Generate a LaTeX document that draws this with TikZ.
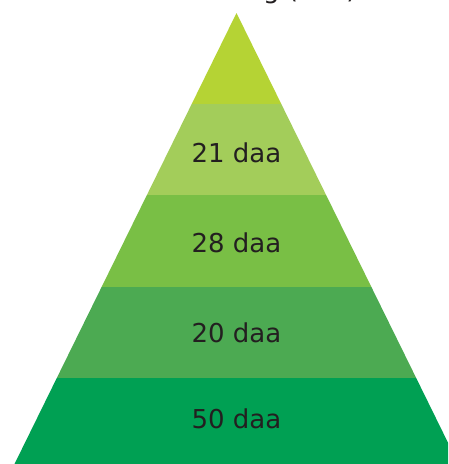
\documentclass[tikz,border=0pt]{standalone}
\usepackage{fontspec}
\setmainfont{DejaVu Sans}
\definecolor{topgreen}{HTML}{B5D334}
\definecolor{lightgreen}{HTML}{A3CD5A}
\definecolor{midgreen}{HTML}{79BF45}
\definecolor{darkgreen}{HTML}{4CAA52}
\definecolor{deepgreen}{HTML}{00A053}
\definecolor{inktext}{HTML}{231F20}
\tikzset{
  band/.style={draw=none},
  amount/.style={text=inktext, font=\fontsize{26}{30}\selectfont, inner sep=0pt}
}
\begin{document}
\begin{tikzpicture}[x=1pt,y=-1pt]
\useasboundingbox (0,0) rectangle (448,464);
\clip (0,0) rectangle (448,464);
\fill[white] (0,0) rectangle (448,464);
\node[amount, anchor=base] (title) at (258,-2) {Fordeling (daa)};
\fill [band, topgreen] (236.5,13)--(281.3,104)--(191.7,104)--cycle;
\fill [band, lightgreen] (191.7,104)--(281.3,104)--(326.1,195)--(146.9,195)--cycle;
\fill [band, midgreen] (146.9,195)--(326.1,195)--(371.4,287)--(101.6,287)--cycle;
\fill [band, darkgreen] (101.6,287)--(371.4,287)--(416.2,378)--(56.8,378)--cycle;
\fill [band, deepgreen] (56.8,378)--(416.2,378)--(458.5,464)--(14.5,464)--cycle;
\node[amount] (a21) at (236.5,153) {21 daa};
\node[amount] (a28) at (236.5,243) {28 daa};
\node[amount] (a20) at (236.5,333) {20 daa};
\node[amount] (a50) at (236.5,419) {50 daa};
\end{tikzpicture}
\end{document}
